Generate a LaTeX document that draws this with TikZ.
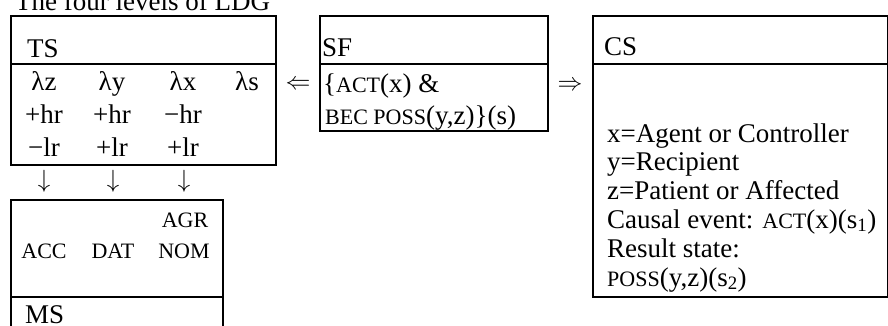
\documentclass[tikz,border=0pt]{standalone}
\usepackage{fontspec}
\setmainfont{Liberation Serif}
\newcommand\smc[1]{{\fontsize{22}{22}\selectfont #1}}
\tikzset{
  boxshape/.style={draw, line width=2pt, rectangle, inner sep=0pt, anchor=north west},
  divline/.style={line width=2pt},
  txt/.style={inner sep=0pt, anchor=base west, font=\fontsize{27}{29}\selectfont},
  coltxt/.style={inner sep=0pt, anchor=base, font=\fontsize{27}{29}\selectfont},
  casetxt/.style={inner sep=0pt, anchor=base, font=\fontsize{22}{22}\selectfont},
  arrowglyph/.style={inner sep=0pt, anchor=center, font=\fontsize{27}{29}\selectfont},
  downglyph/.style={inner sep=0pt, anchor=center, font=\fontsize{30}{30}\selectfont},
}
\begin{document}
\begin{tikzpicture}[x=1pt,y=-1pt]
\useasboundingbox (0,0) rectangle (888,325);
\clip (0,0) rectangle (888,325);
% title
\node[txt] (title) at (15,10) {The four levels of LDG};
% boxes
\node[boxshape, minimum width=265pt, minimum height=149pt] (ts) at (10,15) {};
\draw[divline] (10,64) coordinate (tsdl) -- (275,64) coordinate (tsdr);
\node[boxshape, minimum width=228pt, minimum height=115pt] (sf) at (319,15) {};
\draw[divline] (319,64) coordinate (sfdl) -- (547,64) coordinate (sfdr);
\node[boxshape, minimum width=295pt, minimum height=281pt] (cs) at (592,15) {};
\draw[divline] (592,64) coordinate (csdl) -- (887,64) coordinate (csdr);
\node[boxshape, minimum width=212pt, minimum height=140pt] (ms) at (10,199) {};
\draw[divline] (10,297) coordinate (msdl) -- (222,297) coordinate (msdr);
% TS
\node[txt] (tslab) at (27,57) {TS};
\node[coltxt] (lz) at (44,90) {λz};
\node[coltxt] (ly) at (112,90) {λy};
\node[coltxt] (lx) at (183,90) {λx};
\node[coltxt] (ls) at (247,90) {λs};
\node[coltxt] (hz) at (44,123) {+hr};
\node[coltxt] (hy) at (112,123) {+hr};
\node[coltxt] (hx) at (183,123) {−hr};
\node[coltxt] (rz) at (44,156) {−lr};
\node[coltxt] (ry) at (112,156) {+lr};
\node[coltxt] (rx) at (183,156) {+lr};
% arrows between levels
\node[arrowglyph] (a1) at (298,85) {$\Leftarrow$};
\node[arrowglyph] (a2) at (570,86) {$\Rightarrow$};
\node[downglyph] (d1) at (44,181) {$\downarrow$};
\node[downglyph] (d2) at (113,181) {$\downarrow$};
\node[downglyph] (d3) at (184,181) {$\downarrow$};
% SF
\node[txt] (sflab) at (322,56) {SF};
\node[txt] (sf1) at (323,92) {\{\smc{ACT}(x) \&};
\node[txt] (sf2) at (325,124) {\smc{BEC POSS}(y,z)\}(s)};
% CS
\node[txt] (cslab) at (604,55) {CS};
\node[txt] (cs1) at (607,142) {x=Agent or Controller};
\node[txt] (cs2) at (607,170) {y=Recipient};
\node[txt] (cs3) at (607,199) {z=Patient or Affected};
\node[txt] (cs4) at (607,228) {Causal event: \smc{ACT}(x)(s\textsubscript{1})};
\node[txt] (cs5) at (607,257) {Result state:};
\node[txt] (cs6) at (607,286) {\smc{POSS}(y,z)(s\textsubscript{2})};
% MS
\node[casetxt] (agr) at (185,227) {AGR};
\node[casetxt] (acc) at (44,258) {ACC};
\node[casetxt] (dat) at (113,258) {DAT};
\node[casetxt] (nom) at (184,258) {NOM};
\node[txt] (mslab) at (25,323) {MS};
\end{tikzpicture}
\end{document}
